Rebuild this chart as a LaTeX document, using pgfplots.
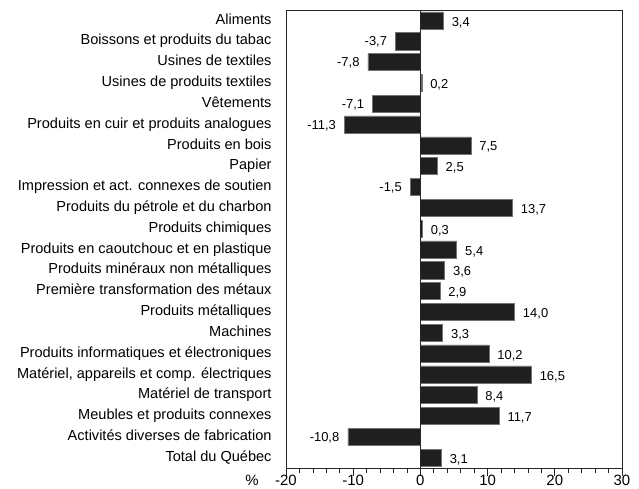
\documentclass[border=0pt]{standalone}
\usepackage{fontspec}
\setmainfont{Liberation Sans}
\usepackage{pgfplots}
\usepackage{pgfplotstable}
\pgfplotsset{compat=1.18}
\pgfplotstableread{
i v lab
0 3.4 3,4
1 -3.7 -3,7
2 -7.8 -7,8
3 0.2 0,2
4 -7.1 -7,1
5 -11.3 -11,3
6 7.5 7,5
7 2.5 2,5
8 -1.5 -1,5
9 13.7 13,7
10 0.3 0,3
11 5.4 5,4
12 3.6 3,6
13 2.9 2,9
14 14.0 14,0
15 3.3 3,3
16 10.2 10,2
17 16.5 16,5
18 8.4 8,4
19 11.7 11,7
20 -10.8 -10,8
21 3.1 3,1
}\data
\begin{document}
\begin{tikzpicture}
\useasboundingbox (-286bp,-21bp) rectangle (353bp,468bp);
\begin{axis}[
  scale only axis,
  width=336bp, height=458bp,
  xmin=-20, xmax=30,
  ymin=-0.5, ymax=21.5,
  y dir=reverse,
  axis line style={black!85, line width=0.8pt},
  xtick={-20,-10,0,10,20,30},
  xticklabels={{-20},{-10},{0},{10},{20},{30}},
  minor x tick num=4,
  xtick pos=bottom,
  tick align=outside,
  major tick length=8bp,
  minor tick length=5bp,
  every tick/.style={black!85, line width=0.7pt},
  ytick={0,...,21},
  ytick style={draw=none},
  yticklabels={
    Aliments,
    Boissons et produits du tabac,
    Usines de textiles,
    Usines de produits textiles,
    Vêtements,
    Produits en cuir et produits analogues,
    Produits en bois,
    Papier,
    Impression et act. connexes de soutien,
    Produits du pétrole et du charbon,
    Produits chimiques,
    Produits en caoutchouc et en plastique,
    Produits minéraux non métalliques,
    Première transformation des métaux,
    Produits métalliques,
    Machines,
    Produits informatiques et électroniques,
    {Matériel, appareils et comp. électriques},
    Matériel de transport,
    Meubles et produits connexes,
    Activités diverses de fabrication,
    Total du Québec},
  yticklabel style={font=\fontsize{14.6}{16}\selectfont, anchor=east, text height=10.5bp, text depth=3bp, xshift=-3bp},
  xticklabel style={font=\fontsize{15}{17}\selectfont, yshift=4bp},
  clip=false,
]
\addplot[xbar, bar width=0.82, bar shift=0pt, fill=black!88, draw=black!55, line width=0.4pt]
  table[x=v, y=i] {\data};
\addplot[black!85, line width=0.8pt] coordinates {(0,-0.5) (0,21.5)};
\addplot[only marks, mark=none, restrict x to domain=0:100,
  point meta=explicit symbolic,
  nodes near coords,
  every node near coord/.append style={anchor=west, xshift=5bp, yshift=-2bp, font=\fontsize{13}{15}\selectfont}]
  table[x=v, y=i, meta=lab] {\data};
\addplot[only marks, mark=none, restrict x to domain=-100:0,
  point meta=explicit symbolic,
  nodes near coords,
  every node near coord/.append style={anchor=east, xshift=-5bp, yshift=-1bp, font=\fontsize{13}{15}\selectfont}]
  table[x=v, y=i, meta=lab] {\data};
\end{axis}
\node[font=\fontsize{15}{17}\selectfont, anchor=base] at (-34bp,-17bp) {\%};
\end{tikzpicture}
\end{document}
